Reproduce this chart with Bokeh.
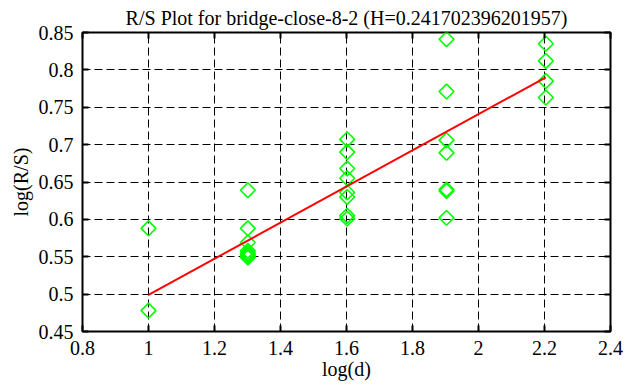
import numpy as np
from bokeh.plotting import figure
from bokeh.models import LinearAxis, Range1d, FixedTicker, CustomJSTickFormatter
from bokeh.embed import file_html
from bokeh.resources import INLINE

# ---- data ----
d_values = [10, 20, 40, 80, 160]
rs_d10 = [0.588, 0.478]
rs_d20 = [0.639, 0.588, 0.569, 0.558, 0.555, 0.553, 0.551, 0.549]
rs_d40 = [0.707, 0.690, 0.668, 0.655, 0.636, 0.630, 0.605, 0.601]
rs_d80 = [0.841, 0.771, 0.706, 0.689, 0.640, 0.638, 0.602]
rs_d160 = [0.835, 0.812, 0.785, 0.763]
H = 0.241702396201957
fit_intercept = 0.2573
x_ticks = [0.8, 1.0, 1.2, 1.4, 1.6, 1.8, 2.0, 2.2, 2.4]
y_ticks = [0.45, 0.5, 0.55, 0.6, 0.65, 0.7, 0.75, 0.8, 0.85]
title_text = "R/S Plot for bridge-close-8-2 (H=0.241702396201957)"

groups = [rs_d10, rs_d20, rs_d40, rs_d80, rs_d160]
xs, ys = [], []
for d, g in zip(d_values, groups):
    for v in g:
        xs.append(np.log10(d))
        ys.append(v)
line_x = [np.log10(d_values[0]), np.log10(d_values[-1])]
line_y = [fit_intercept + H * x for x in line_x]

FONT = "Liberation Serif"
FS = "20px"
X0, X1, Y0, Y1 = x_ticks[0], x_ticks[-1], y_ticks[0], y_ticks[-1]

p = figure(width=626, height=387, output_backend="svg", toolbar_location=None,
           x_range=Range1d(X0, X1), y_range=Range1d(Y0, Y1),
           x_axis_location=None, y_axis_location=None,
           min_border_left=82, min_border_right=16, min_border_top=0, min_border_bottom=56)
p.background_fill_color = "white"
p.border_fill_color = "white"
p.outline_line_color = "black"
p.outline_line_width = 2

p.title.text = title_text
p.title.align = "center"
p.title.text_font = FONT
p.title.text_font_style = "normal"
p.title.text_font_size = FS
p.title.text_color = "black"
p.title.standoff = 8

blank = CustomJSTickFormatter(code="return ''")

def style_axis(ax, ticks):
    ax.ticker = FixedTicker(ticks=ticks)
    ax.axis_line_color = None
    ax.major_tick_in = 6
    ax.major_tick_out = 0
    ax.major_tick_line_color = "black"
    ax.major_tick_line_width = 2
    ax.minor_tick_line_color = None
    ax.major_label_text_font = FONT
    ax.major_label_text_font_size = FS
    ax.major_label_text_font_style = "normal"
    ax.major_label_text_color = "black"
    ax.axis_label_text_font = FONT
    ax.axis_label_text_font_size = FS
    ax.axis_label_text_font_style = "normal"
    ax.axis_label_text_color = "black"

xb = LinearAxis(axis_label="log(d)")
style_axis(xb, x_ticks)
xb.major_label_standoff = 9
xb.axis_label_standoff = 0
p.add_layout(xb, "below")

yl = LinearAxis(axis_label="log(R/S)")
style_axis(yl, y_ticks)
yl.major_label_standoff = 9
yl.axis_label_standoff = 4
p.add_layout(yl, "left")

for ax, ticks, side in ((LinearAxis(), x_ticks, "above"), (LinearAxis(), y_ticks, "right")):
    style_axis(ax, ticks)
    ax.formatter = blank
    ax.major_label_text_font_size = "0px"
    ax.major_label_standoff = 0
    p.add_layout(ax, side)

p.xgrid.ticker = FixedTicker(ticks=x_ticks)
p.ygrid.ticker = FixedTicker(ticks=y_ticks)
for g in (p.xgrid[0], p.ygrid[0]):
    g.grid_line_color = "black"
    g.grid_line_width = 1
    g.grid_line_dash = "8 4"

p.scatter(xs, ys, marker="square", angle=np.pi / 4, size=10.5,
          line_color="#00ff00", line_width=1.6, fill_color=None)
p.line(line_x, line_y, line_color="red", line_width=2)

open("out.html", "w").write(file_html(p, INLINE))
